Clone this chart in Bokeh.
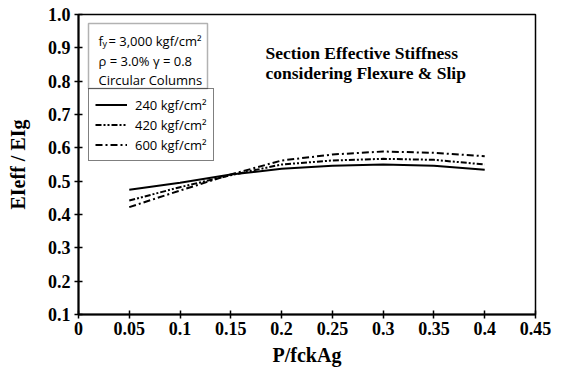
from bokeh.plotting import figure
from bokeh.models import Range1d, FixedTicker, Label, BoxAnnotation, Legend, LegendItem
from bokeh.embed import file_html
from bokeh.resources import INLINE

# ---- data ----
p_ratio = [0.05, 0.10, 0.15, 0.20, 0.25, 0.30, 0.35, 0.40]
s240 = [0.474, 0.495, 0.520, 0.537, 0.546, 0.550, 0.546, 0.534]
s420 = [0.442, 0.482, 0.518, 0.550, 0.562, 0.567, 0.564, 0.550]
s600 = [0.422, 0.472, 0.520, 0.562, 0.580, 0.589, 0.585, 0.575]
series_names = ["240 kgf/cm\u00b2", "420 kgf/cm\u00b2", "600 kgf/cm\u00b2"]
x_ticks = [0, 0.05, 0.1, 0.15, 0.2, 0.25, 0.3, 0.35, 0.4, 0.45]
x_tick_labels = ["0", "0.05", "0.1", "0.15", "0.2", "0.25", "0.3", "0.35", "0.4", "0.45"]
y_ticks = [0.1, 0.2, 0.3, 0.4, 0.5, 0.6, 0.7, 0.8, 0.9, 1.0]
y_tick_labels = ["0.1", "0.2", "0.3", "0.4", "0.5", "0.6", "0.7", "0.8", "0.9", "1.0"]
x_title = "P/fckAg"
y_title = "EIeff / EIg"

W, H = 561, 371
FL, FR, FT, FB = 78, 535, 14, 314  # frame edges in canvas px

SERIF = "Liberation Serif"
SANS = "Open Sans"

p = figure(width=W, height=H, output_backend="svg", toolbar_location=None,
           x_range=Range1d(0, 0.45), y_range=Range1d(0.1, 1.0),
           min_border_left=FL, min_border_right=W - FR,
           min_border_top=FT, min_border_bottom=H - FB)
p.grid.visible = False
p.background_fill_color = "white"
p.border_fill_color = "white"
p.outline_line_color = "black"
p.outline_line_width = 1.5

for ax, ticks, labels, title in ((p.xaxis[0], x_ticks, x_tick_labels, x_title),
                                 (p.yaxis[0], y_ticks, y_tick_labels, y_title)):
    ax.ticker = FixedTicker(ticks=ticks)
    ax.major_label_overrides = {t: l for t, l in zip(ticks, labels)}
    ax.major_label_text_font = SERIF
    ax.major_label_text_font_style = "bold"
    ax.major_label_text_font_size = "18px"
    ax.major_label_text_color = "black"
    ax.axis_line_width = 2
    ax.axis_line_color = "black"
    ax.major_tick_line_width = 1.5
    ax.major_tick_in = 4
    ax.major_tick_out = 4
    ax.minor_tick_line_color = None
    ax.axis_label = title
    ax.axis_label_text_font = SERIF
    ax.axis_label_text_font_style = "bold"
    ax.axis_label_text_font_size = "20px"
    ax.axis_label_text_color = "black"
p.xaxis.major_label_standoff = 3
p.yaxis.major_label_standoff = 4
p.xaxis.axis_label_standoff = 6
p.yaxis.axis_label_standoff = 16

r1 = p.line(p_ratio, s240, line_color="black", line_width=2)
r2 = p.line(p_ratio, s420, line_color="black", line_width=2, line_dash="6 2 2 2 2 2")
r3 = p.line(p_ratio, s600, line_color="black", line_width=2, line_dash="7 3 2 3")

legend = Legend(items=[LegendItem(label=series_names[0], renderers=[r1]),
                       LegendItem(label=series_names[1], renderers=[r2]),
                       LegendItem(label=series_names[2], renderers=[r3])],
                location=(10, 153), margin=0, padding=6, spacing=1,
                glyph_width=32, glyph_height=19, label_height=19, label_standoff=8,
                label_text_font=SANS, label_text_font_size="13px", label_text_color="black",
                border_line_color="black", border_line_width=1.5,
                background_fill_alpha=0)
p.add_layout(legend, "center")


def dx(cx):
    return (cx - FL) / (FR - FL) * 0.45


def dy(cy):
    return 0.1 + (FB - cy) / (FB - FT) * 0.9


p.add_layout(BoxAnnotation(left=dx(88), right=dx(207), top=dy(23), bottom=dy(88),
                           fill_alpha=0, line_color="black", line_width=1.5))


def lab(text, cx, cy, size, font, style="normal"):
    p.add_layout(Label(x=cx - FL, y=FB - cy, x_units="screen", y_units="screen",
                       text=text, text_font=font, text_font_size=f"{size}px",
                       text_font_style=style, text_color="black",
                       text_align="left", text_baseline="alphabetic"))


# info box text
lab("f", 98, 40, 13, SANS)
lab("y", 102, 43, 9, SANS)
lab("= 3,000 kgf/cm\u00b2", 108, 40, 13, SANS)
lab("\u03c1 = 3.0%  \u03b3 = 0.8", 98, 60, 13, SANS)
lab("Circular Columns", 98, 79, 13, SANS)

# annotation
lab("Section Effective Stiffness", 265, 52, 17.5, SERIF, "bold")
lab("considering Flexure & Slip", 265, 72, 17.5, SERIF, "bold")

open("out.html", "w").write(file_html(p, INLINE))
